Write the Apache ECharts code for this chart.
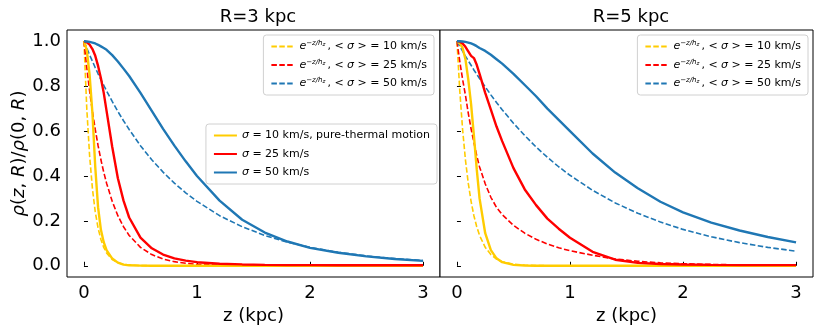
<!DOCTYPE html>
<html>
<head>
<meta charset="utf-8">
<title>rho(z,R)</title>
<script src="https://cdn.jsdelivr.net/npm/echarts@6/dist/echarts.min.js"></script>
<style>
  * { margin: 0; padding: 0; }
  body { background: #fff; width: 822px; height: 331px; overflow: hidden; }
  #chart { width: 822px; height: 331px; }
</style>
</head>
<body>
<div id="chart"></div>
<script>
// z grid (kpc), shared by all curves
const zGrid = [0, 0.025, 0.05, 0.075, 0.1, 0.125, 0.15, 0.175, 0.2, 0.25, 0.3, 0.35, 0.4, 0.5, 0.6, 0.7, 0.8, 0.9, 1.0, 1.2, 1.4, 1.6, 1.8, 2.0, 2.25, 2.5, 2.75, 3.0];

// R = 3 kpc, solid (sigma) curves
const r3Sol10 = [1, 0.96, 0.85, 0.68, 0.44, 0.26, 0.16, 0.105, 0.07, 0.032, 0.014, 0.005, 0.002, 0.0005, 0, 0, 0, 0, 0, 0, 0, 0, 0, 0, 0, 0, 0, 0];
const r3Sol25 = [1, 0.995, 0.985, 0.965, 0.935, 0.89, 0.835, 0.77, 0.69, 0.53, 0.39, 0.29, 0.215, 0.125, 0.078, 0.05, 0.033, 0.023, 0.016, 0.009, 0.006, 0.004, 0.003, 0.003, 0.002, 0.002, 0.002, 0.002];
const r3Sol50 = [1, 0.999, 0.997, 0.994, 0.99, 0.984, 0.977, 0.97, 0.962, 0.938, 0.91, 0.878, 0.845, 0.77, 0.69, 0.61, 0.535, 0.465, 0.40, 0.29, 0.205, 0.148, 0.108, 0.08, 0.058, 0.042, 0.03, 0.022];
// R = 3 kpc, dashed (exponential) curves
const r3Exp10 = [1, 0.70, 0.49, 0.343, 0.24, 0.168, 0.117, 0.082, 0.057, 0.028, 0.014, 0.0067, 0.0033, 0.0008, 0.0002, 0, 0, 0, 0, 0, 0, 0, 0, 0, 0, 0, 0, 0];
const r3Exp25 = [1, 0.882, 0.779, 0.687, 0.607, 0.535, 0.472, 0.417, 0.368, 0.287, 0.223, 0.174, 0.135, 0.082, 0.0498, 0.0302, 0.0183, 0.0111, 0.0067, 0.0025, 0.0009, 0.0003, 0.0001, 0, 0, 0, 0, 0];
const r3Exp50 = [1, 0.969, 0.939, 0.911, 0.882, 0.855, 0.829, 0.804, 0.779, 0.732, 0.687, 0.646, 0.607, 0.535, 0.472, 0.417, 0.368, 0.325, 0.287, 0.223, 0.174, 0.135, 0.105, 0.082, 0.060, 0.044, 0.032, 0.0235];

// R = 5 kpc, solid (sigma) curves
const r5Sol10 = [1, 0.99, 0.97, 0.92, 0.83, 0.72, 0.58, 0.43, 0.30, 0.145, 0.07, 0.033, 0.016, 0.004, 0.001, 0, 0, 0, 0, 0, 0, 0, 0, 0, 0, 0, 0, 0];
const r5Sol25 = [1, 0.998, 0.99, 0.975, 0.955, 0.935, 0.925, 0.895, 0.855, 0.77, 0.695, 0.62, 0.555, 0.435, 0.34, 0.27, 0.21, 0.165, 0.125, 0.062, 0.027, 0.013, 0.008, 0.006, 0.004, 0.003, 0.003, 0.003];
const r5Sol50 = [1, 1.0, 0.999, 0.997, 0.994, 0.99, 0.985, 0.978, 0.97, 0.957, 0.94, 0.92, 0.90, 0.855, 0.805, 0.755, 0.70, 0.65, 0.60, 0.50, 0.415, 0.345, 0.285, 0.238, 0.192, 0.157, 0.128, 0.104];
// R = 5 kpc, dashed (exponential) curves
const r5Exp10 = [1, 0.779, 0.607, 0.472, 0.368, 0.287, 0.223, 0.174, 0.135, 0.082, 0.0498, 0.030, 0.018, 0.0067, 0.0025, 0.0009, 0.0003, 0.0001, 0, 0, 0, 0, 0, 0, 0, 0, 0, 0];
const r5Exp25 = [1, 0.91, 0.83, 0.76, 0.68, 0.61, 0.55, 0.49, 0.44, 0.365, 0.305, 0.26, 0.228, 0.18, 0.145, 0.118, 0.097, 0.08, 0.067, 0.047, 0.03, 0.02, 0.013, 0.009, 0.006, 0.004, 0.003, 0.002];
const r5Exp50 = [1, 0.978, 0.956, 0.934, 0.913, 0.893, 0.872, 0.853, 0.834, 0.797, 0.761, 0.727, 0.695, 0.635, 0.580, 0.529, 0.483, 0.441, 0.403, 0.336, 0.280, 0.234, 0.195, 0.162, 0.129, 0.103, 0.082, 0.065];

// tick labels
const xTicks = [0, 1, 2, 3];
const yTicks = [0, 0.2, 0.4, 0.6, 0.8, 1.0];
const panelTitles = ['R=3 kpc', 'R=5 kpc'];

const YELLOW = '#ffcc00';
const RED = '#ff0000';
const BLUE = '#1f77b4';
const FONT = 'DejaVu Sans';

// legend text, rich-text formatted
const legendText = {
  exp10: '{e|e}{sup|−z/h}{sub|z}, < {i|σ} > = 10 km/s',
  exp25: '{e|e}{sup|−z/h}{sub|z}, < {i|σ} > = 25 km/s',
  exp50: '{e|e}{sup|−z/h}{sub|z}, < {i|σ} > = 50 km/s',
  sol10: '{i|σ} = 10 km/s, pure-thermal motion',
  sol25: '{i|σ} = 25 km/s',
  sol50: '{i|σ} = 50 km/s'
};

const pairs = arr => zGrid.map((z, i) => [z, arr[i]]);

function curve(name, arr, color, dashed, idx) {
  return {
    name: name,
    type: 'line',
    xAxisIndex: idx,
    yAxisIndex: idx,
    data: pairs(arr),
    showSymbol: false,
    symbol: 'none',
    smooth: false,
    animation: false,
    z: dashed ? 2 : 3,
    lineStyle: {
      color: color,
      width: dashed ? 1.6 : 2.4,
      type: dashed ? [5.5, 2.4] : 'solid'
    },
    itemStyle: { color: color }
  };
}

const richStyles = {
  e: { fontFamily: FONT, fontStyle: 'italic', fontSize: 11 },
  sup: { fontFamily: FONT, fontStyle: 'italic', fontSize: 7, verticalAlign: 'top', padding: [0, 0, 6, 0] },
  sub: { fontFamily: FONT, fontStyle: 'italic', fontSize: 5.5, padding: [0, 2, 3, 0] },
  i: { fontFamily: FONT, fontStyle: 'italic', fontSize: 11 }
};

function legendBox(names, right, top) {
  return {
    data: names,
    orient: 'vertical',
    align: 'left',
    right: right,
    top: top,
    itemWidth: 23,
    itemHeight: 12,
    itemGap: 5.5,
    padding: [5, 7, 5, 7],
    backgroundColor: '#ffffff',
    borderColor: '#d0d0d0',
    borderWidth: 1,
    borderRadius: 3,
    selectedMode: false,
    itemStyle: { opacity: 0, borderWidth: 0 },
    formatter: n => legendText[n],
    textStyle: { fontFamily: FONT, fontSize: 11, color: '#000', lineHeight: 13, rich: richStyles }
  };
}

function xAxis(idx) {
  return {
    type: 'value',
    gridIndex: idx,
    min: -0.15,
    max: 3.15,
    splitLine: { show: false },
    axisLine: { show: false },
    axisTick: { show: true, inside: true, length: 4, customValues: xTicks, lineStyle: { color: '#000', width: 1 } },
    axisLabel: { customValues: xTicks, fontFamily: FONT, fontSize: 18, color: '#000', margin: 7 },
    name: 'z (kpc)',
    nameLocation: 'middle',
    nameGap: 28,
    nameTextStyle: { fontFamily: FONT, fontSize: 18, color: '#000' }
  };
}

function yAxis(idx) {
  const ax = {
    type: 'value',
    gridIndex: idx,
    min: -0.05,
    max: 1.05,
    splitLine: { show: false },
    axisLine: { show: false },
    axisTick: { show: true, inside: true, length: 4, customValues: yTicks, lineStyle: { color: '#000', width: 1 } },
    axisLabel: {
      show: idx === 0,
      customValues: yTicks,
      formatter: v => v.toFixed(1),
      fontFamily: FONT, fontSize: 18, color: '#000', margin: 6
    }
  };
  if (idx === 0) {
    ax.name = '{i|ρ}{n|(}{i|z}{n|, }{i|R}{n|)/}{i|ρ}{n|(0, }{i|R}{n|)}';
    ax.nameLocation = 'middle';
    ax.nameRotate = 90;
    ax.nameGap = 38;
    ax.nameTextStyle = {
      rich: {
        i: { fontFamily: FONT, fontStyle: 'italic', fontSize: 18, color: '#000' },
        n: { fontFamily: FONT, fontSize: 18, color: '#000' }
      }
    };
  }
  return ax;
}

const chart = echarts.init(document.getElementById('chart'), null, { renderer: 'canvas' });

const option = {
  backgroundColor: '#ffffff',
  animation: false,
  title: [
    { text: panelTitles[0], left: 253, top: 3, textAlign: 'center', textStyle: { fontFamily: FONT, fontSize: 18, fontWeight: 'normal', color: '#000' } },
    { text: panelTitles[1], left: 626, top: 3, textAlign: 'center', textStyle: { fontFamily: FONT, fontSize: 18, fontWeight: 'normal', color: '#000' } }
  ],
  grid: [
    { left: 67, top: 30, width: 373, height: 247, show: true, borderColor: '#000', borderWidth: 1, backgroundColor: '#fff' },
    { left: 440, top: 30, width: 373, height: 247, show: true, borderColor: '#000', borderWidth: 1, backgroundColor: '#fff' }
  ],
  xAxis: [xAxis(0), xAxis(1)],
  yAxis: [yAxis(0), yAxis(1)],
  legend: [
    legendBox(['exp10', 'exp25', 'exp50'], 388, 35),
    legendBox(['sol10', 'sol25', 'sol50'], 385, 124),
    legendBox(['exp10', 'exp25', 'exp50'], 14, 35)
  ],
  series: [
    curve('exp10', r3Exp10, YELLOW, true, 0),
    curve('exp25', r3Exp25, RED, true, 0),
    curve('exp50', r3Exp50, BLUE, true, 0),
    curve('sol10', r3Sol10, YELLOW, false, 0),
    curve('sol25', r3Sol25, RED, false, 0),
    curve('sol50', r3Sol50, BLUE, false, 0),
    curve('exp10', r5Exp10, YELLOW, true, 1),
    curve('exp25', r5Exp25, RED, true, 1),
    curve('exp50', r5Exp50, BLUE, true, 1),
    curve('sol10', r5Sol10, YELLOW, false, 1),
    curve('sol25', r5Sol25, RED, false, 1),
    curve('sol50', r5Sol50, BLUE, false, 1)
  ]
};

chart.setOption(option);
</script>
</body>
</html>
